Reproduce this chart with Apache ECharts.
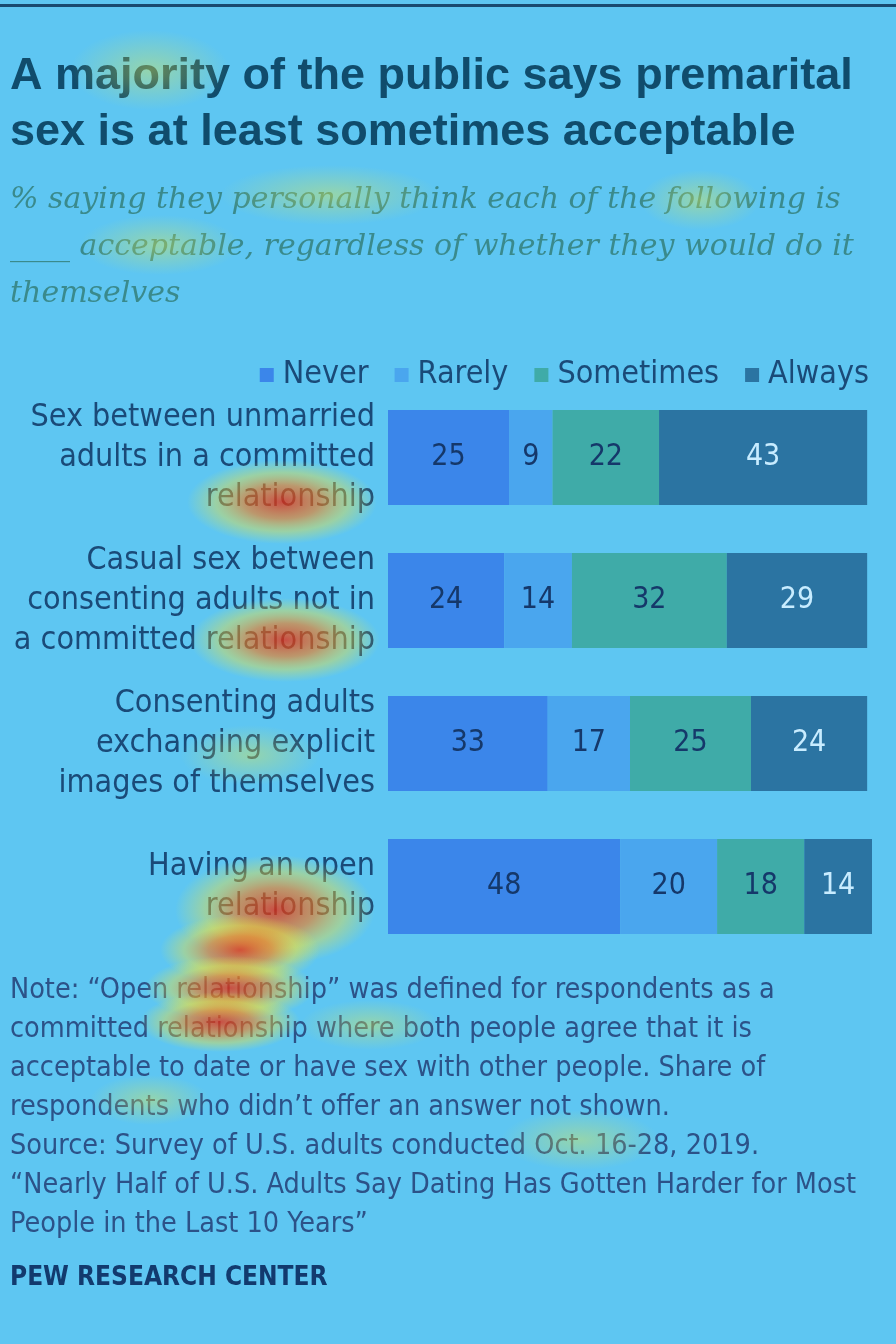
<!DOCTYPE html>
<html>
<head>
<meta charset="utf-8">
<script src="https://cdn.jsdelivr.net/npm/echarts@6/dist/echarts.min.js"></script>
<style>
html,body{margin:0;padding:0;background:#5ec6f2;}
#chart{width:896px;height:1344px;}
</style>
</head>
<body>
<div id="chart"></div>
<script>
// categories (top to bottom)
var categories = [
	'Sex between unmarried\nadults in a committed\nrelationship',
	'Casual sex between\nconsenting adults not in\na committed relationship',
	'Consenting adults\nexchanging explicit\nimages of themselves',
	'Having an open\nrelationship'
];
var seriesNames = ['Never', 'Rarely', 'Sometimes', 'Always'];
var never     = [25, 24, 33, 48];
var rarely    = [9, 14, 17, 20];
var sometimes = [22, 32, 25, 18];
var always    = [43, 29, 24, 14];
var seriesColors = ['#3b86ea', '#4aa6ee', '#3faba8', '#2b74a2'];
var labelColors  = ['#15386a', '#15386a', '#15386a', '#c8ecff'];

var narrow = "'Liberation Sans Narrow','DejaVu Sans Condensed',sans-serif";

var myChart = echarts.init(document.getElementById('chart'));

var values = [never, rarely, sometimes, always];
var series = [];
for (var i = 0; i < seriesNames.length; i++) {
	series.push({
		name: seriesNames[i],
		type: 'bar',
		stack: 'all',
		barWidth: 95,
		data: values[i],
		itemStyle: {color: seriesColors[i]},
		label: {
			show: true,
			position: 'inside',
			fontSize: 30,
			fontFamily: narrow,
			color: labelColors[i]
		}
	});
}

// soft attention blobs like the overlay in the picture (circle stretched sideways)
function blob(x, y, rx, ry, hot) {
	return {
		type: 'circle',
		silent: true,
		z: 100,
		x: x,
		y: y,
		scaleX: rx / ry,
		shape: {cx: 0, cy: 0, r: ry},
		style: {
			fill: new echarts.graphic.RadialGradient(0.5, 0.5, 0.5, hot ? [
				{offset: 0, color: 'rgba(235,40,10,0.75)'},
				{offset: 0.4, color: 'rgba(250,120,20,0.6)'},
				{offset: 0.7, color: 'rgba(245,225,50,0.4)'},
				{offset: 1, color: 'rgba(240,240,60,0)'}
			] : [
				{offset: 0, color: 'rgba(230,235,70,0.4)'},
				{offset: 1, color: 'rgba(230,235,70,0)'}
			])
		}
	};
}

var option = {
	backgroundColor: '#5ec6f2',
	animation: false,
	title: [
		{
			text: 'A majority of the public says premarital\nsex is at least sometimes acceptable',
			left: 5,
			top: 44,
			textStyle: {
				fontFamily: "'Liberation Sans',Arial,sans-serif",
				fontWeight: 'bold',
				fontSize: 45,
				lineHeight: 56,
				color: '#104c6c'
			}
		},
		{
			text: '% saying they personally think each of the following is\n____ acceptable, regardless of whether they would do it\nthemselves',
			left: 5,
			top: 172,
			textStyle: {
				fontFamily: "'DejaVu Serif',serif",
				fontStyle: 'italic',
				fontWeight: 'normal',
				fontSize: 30,
				lineHeight: 47,
				color: '#3a8a8c'
			}
		},
		{
			text: 'Note: \u201cOpen relationship\u201d was defined for respondents as a\ncommitted relationship where both people agree that it is\nacceptable to date or have sex with other people. Share of\nrespondents who didn\u2019t offer an answer not shown.\nSource: Survey of U.S. adults conducted Oct. 16-28, 2019.\n\u201cNearly Half of U.S. Adults Say Dating Has Gotten Harder for Most\nPeople in the Last 10 Years\u201d',
			left: 5,
			top: 966,
			textStyle: {
				fontFamily: narrow,
				fontWeight: 'normal',
				fontSize: 28.5,
				lineHeight: 39,
				color: '#2c5288'
			}
		},
		{
			text: 'PEW RESEARCH CENTER',
			left: 5,
			top: 1260,
			textStyle: {
				fontFamily: narrow,
				fontWeight: 'bold',
				fontSize: 26,
				color: '#123a6e'
			}
		}
	],
	legend: {
		data: seriesNames,
		right: 22,
		top: 354,
		icon: 'rect',
		itemWidth: 14,
		itemHeight: 14,
		itemGap: 26,
		textStyle: {
			fontFamily: narrow,
			fontSize: 32,
			color: '#1a4a78',
			padding: [0, 0, 0, 4]
		}
	},
	grid: {
		left: 388,
		right: 24,
		top: 386,
		bottom: 386,
		containLabel: false
	},
	xAxis: {
		type: 'value',
		min: 0,
		max: 100,
		show: false
	},
	yAxis: {
		type: 'category',
		inverse: true,
		data: categories,
		axisLine: {show: false},
		axisTick: {show: false},
		axisLabel: {
			margin: 13,
			align: 'right',
			fontFamily: narrow,
			fontSize: 32,
			lineHeight: 40,
			color: '#1a4a78'
		}
	},
	series: series,
	graphic: [
		{
			type: 'rect',
			silent: true,
			shape: {x: 0, y: 4, width: 896, height: 3},
			style: {fill: '#1a4a70'}
		},
		blob(282, 502, 95, 42, true),
		blob(285, 640, 95, 42, true),
		blob(275, 910, 100, 55, true),
		blob(240, 950, 80, 35, true),
		blob(230, 988, 85, 32, true),
		blob(220, 1022, 80, 30, true),
		blob(150, 70, 80, 40, false),
		blob(330, 195, 110, 30, false),
		blob(700, 200, 60, 30, false),
		blob(160, 245, 80, 30, false),
		blob(580, 1140, 80, 30, false),
		blob(370, 1025, 70, 25, false),
		blob(250, 755, 70, 30, false),
		blob(150, 1100, 60, 25, false)
	]
};
myChart.setOption(option);
</script>
</body>
</html>
